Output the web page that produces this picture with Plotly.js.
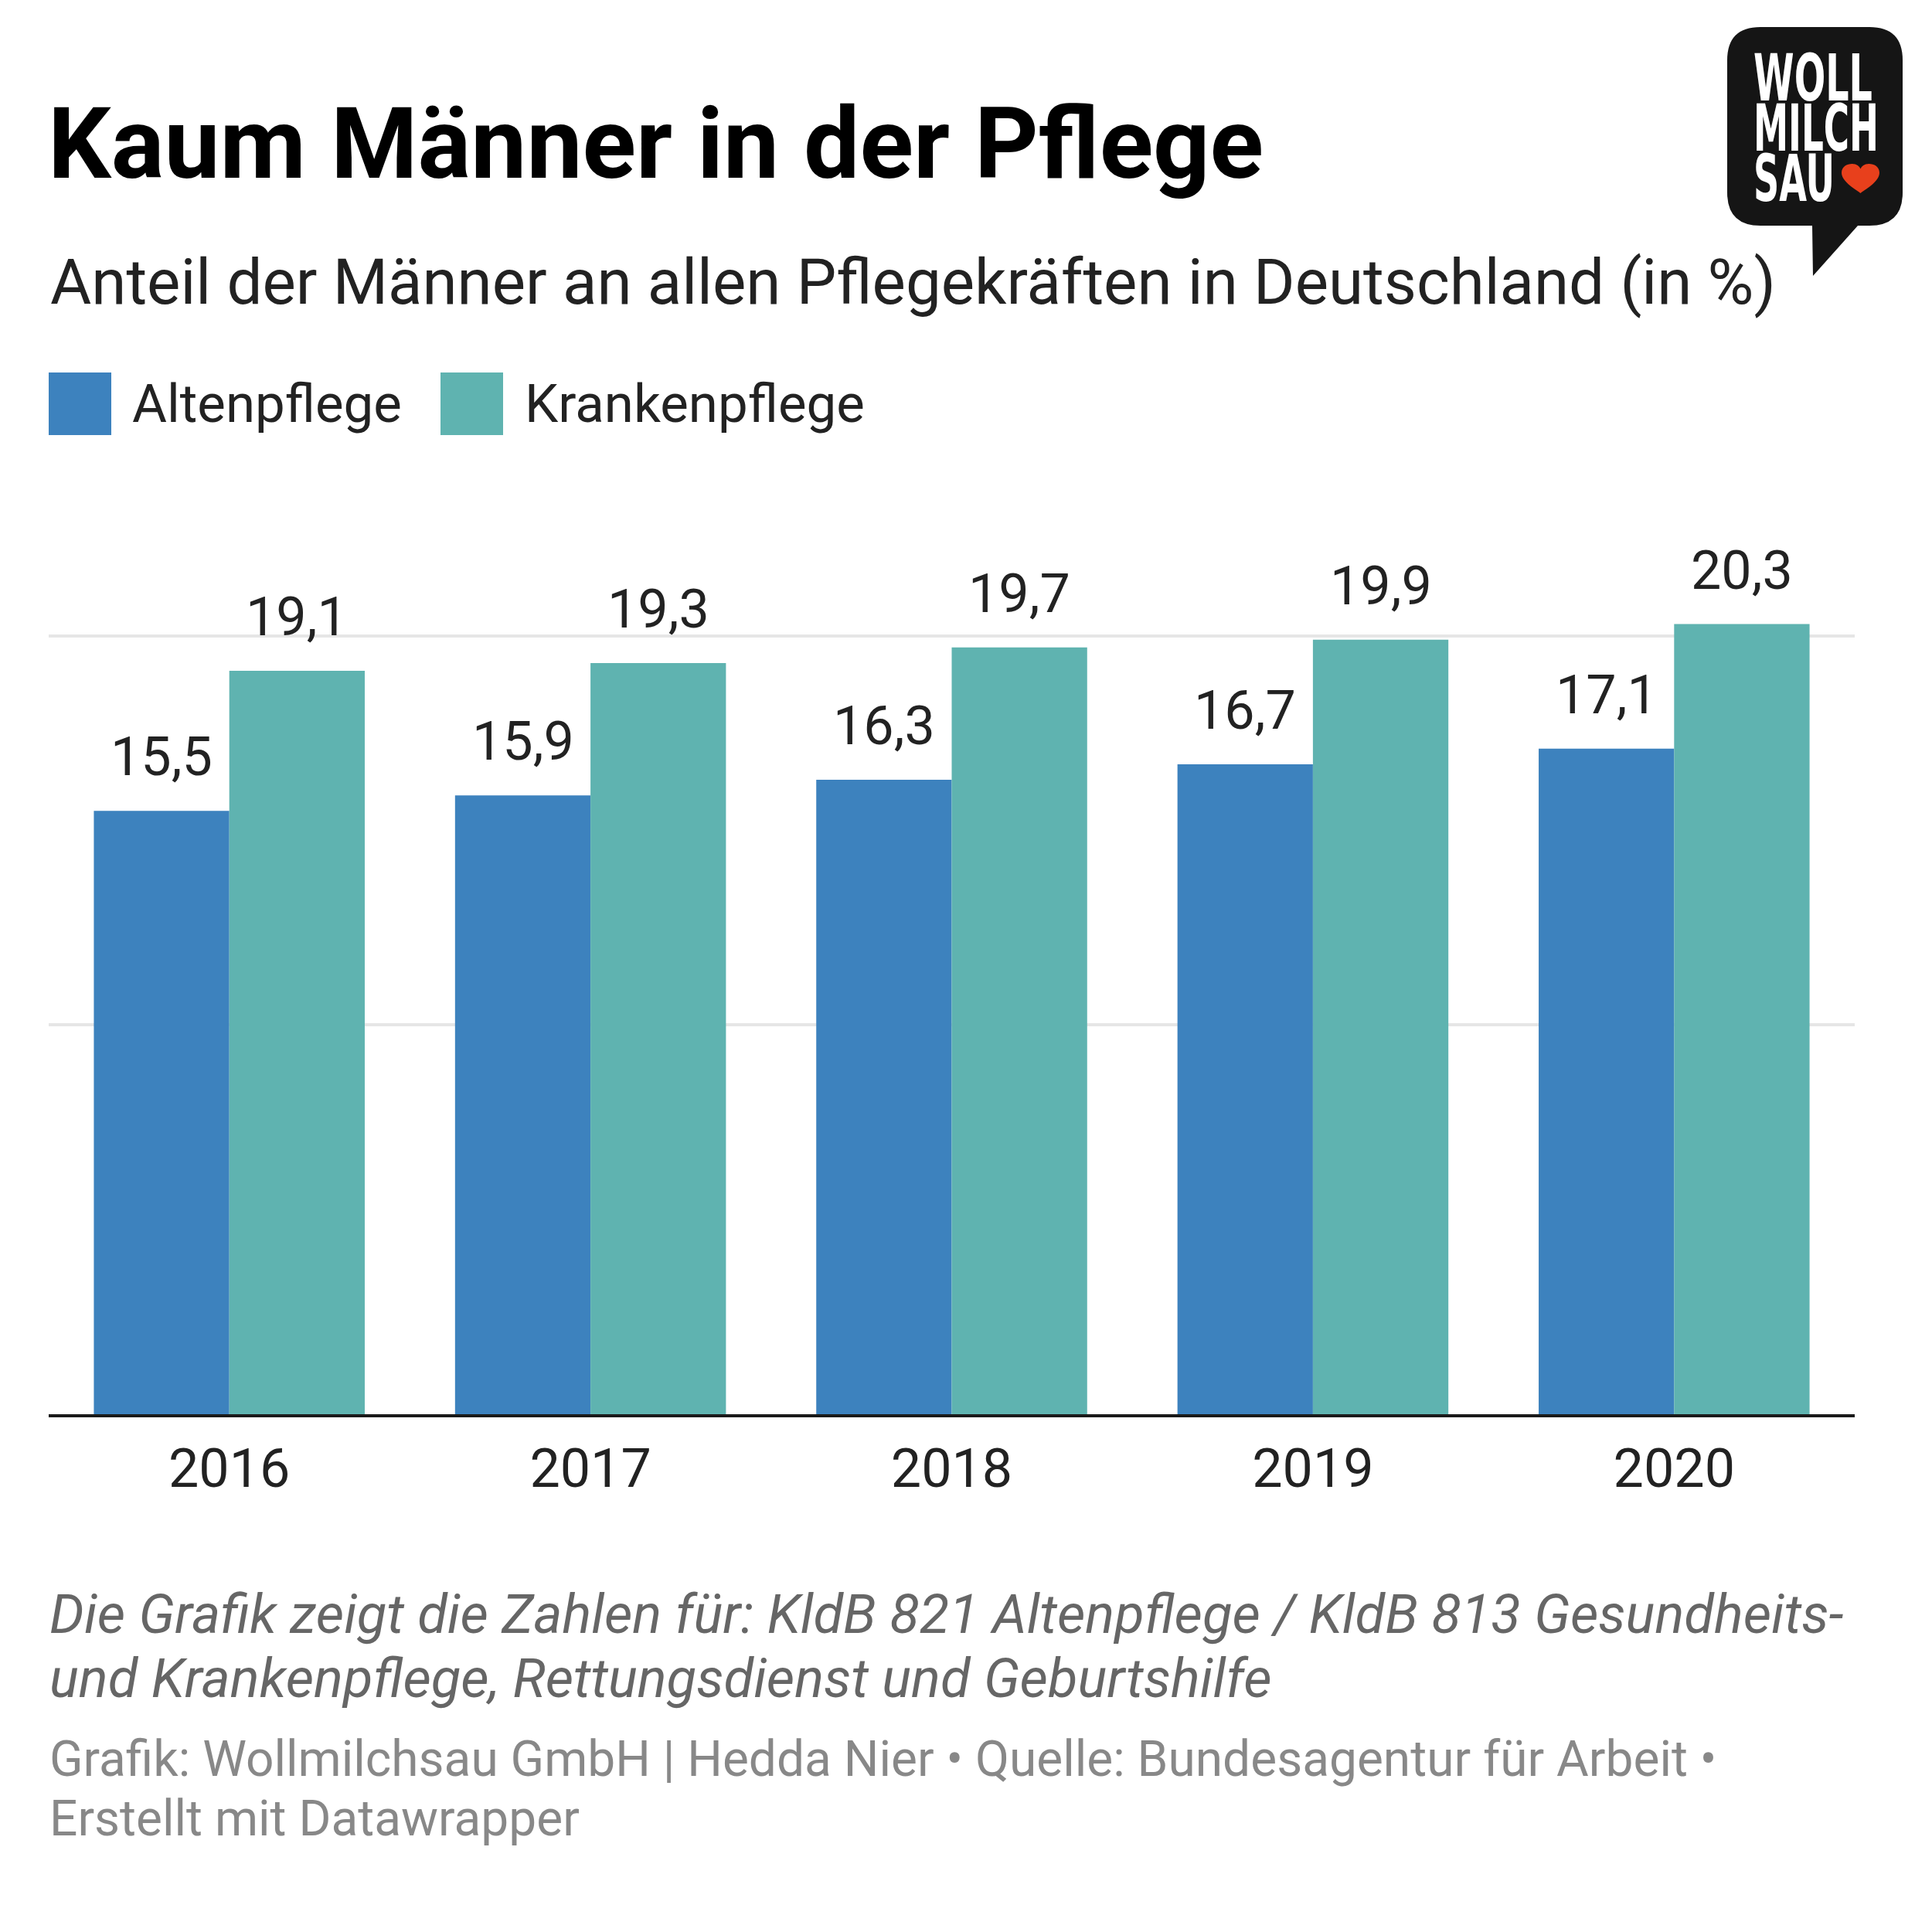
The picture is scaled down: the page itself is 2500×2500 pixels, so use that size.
<!DOCTYPE html>
<html>
<head>
<meta charset="utf-8">
<script src="https://cdn.plot.ly/plotly-3.0.1.min.js"></script>
<style>
  html, body { margin: 0; padding: 0; background: #ffffff; }
  #chart { width: 2500px; height: 2500px; }
</style>
</head>
<body>
<div id="chart"></div>
<script>
// ---------- data ----------
const years = ['2016', '2017', '2018', '2019', '2020'];
const altenpflege = [15.5, 15.9, 16.3, 16.7, 17.1];
const krankenpflege = [19.1, 19.3, 19.7, 19.9, 20.3];
const seriesNames = ['Altenpflege', 'Krankenpflege'];

const titleText = 'Kaum Männer in der Pflege';
const subtitleText = 'Anteil der Männer an allen Pflegekräften in Deutschland (in %)';
const noteLines = [
  'Die Grafik zeigt die Zahlen für: KldB 821 Altenpflege / KldB 813 Gesundheits-',
  'und Krankenpflege, Rettungsdienst und Geburtshilfe'
];
const sourceLines = [
  'Grafik: Wollmilchsau GmbH | Hedda Nier • Quelle: Bundesagentur für Arbeit •',
  'Erstellt mit Datawrapper'
];
const logoLines = ['WOLL', 'MILCH', 'SAU'];

// ---------- geometry / style ----------
const W = 2500, H = 2500;
const PL = 63, PR = 2400, PT = 722, PB = 1830;
const xp = px => (px - PL) / (PR - PL);
const yp = py => (PB - py) / (PB - PT);
const blue = '#3d82be';
const teal = '#5fb3b0';
const FONT = 'Roboto, "Noto Sans", sans-serif';
const fmt = v => v.toFixed(1).replace('.', ',');

const traces = [
  { type: 'bar', name: seriesNames[0], x: years, y: altenpflege,
    marker: { color: blue, line: { width: 0 } }, hoverinfo: 'skip' },
  { type: 'bar', name: seriesNames[1], x: years, y: krankenpflege,
    marker: { color: teal, line: { width: 0 } }, hoverinfo: 'skip' }
];

const annotations = [];
const shapes = [];

// value labels above bars (x = category index on the category axis)
const barOffset = 87.6;
[altenpflege, krankenpflege].forEach((vals, si) => {
  vals.forEach((v, i) => {
    annotations.push({
      xref: 'x', yref: 'y', x: years.indexOf(years[i]), y: v,
      xshift: si === 0 ? -barOffset : barOffset, yshift: 70,
      text: fmt(v), showarrow: false, xanchor: 'center', yanchor: 'middle',
      font: { family: FONT, size: 70, color: '#222222' }
    });
  });
});

// subtitle
annotations.push({
  xref: 'paper', yref: 'paper', x: xp(63), y: yp(365), xanchor: 'left', yanchor: 'middle',
  text: subtitleText, showarrow: false, align: 'left',
  font: { family: FONT, size: 81.7, color: '#222222' }
});

// legend
const legendItems = [
  { name: seriesNames[0], color: blue, sx: 63, tx: 169 },
  { name: seriesNames[1], color: teal, sx: 570, tx: 677 }
];
legendItems.forEach(it => {
  shapes.push({ type: 'rect', xref: 'paper', yref: 'paper',
    x0: xp(it.sx), x1: xp(it.sx + 81), y0: yp(563), y1: yp(482),
    fillcolor: it.color, line: { width: 0 } });
  annotations.push({
    xref: 'paper', yref: 'paper', x: xp(it.tx), y: yp(522), xanchor: 'left', yanchor: 'middle',
    text: it.name, showarrow: false, align: 'left',
    font: { family: FONT, size: 69, color: '#222222' }
  });
});

// notes & source
[2088, 2171].forEach((cy, i) => {
  annotations.push({
    xref: 'paper', yref: 'paper', x: xp(62), y: yp(cy), xanchor: 'left', yanchor: 'middle',
    text: '<i>' + noteLines[i] + '</i>', showarrow: false, align: 'left',
    font: { family: FONT, size: 70.7, color: '#666666' }
  });
});
[2276, 2353].forEach((cy, i) => {
  annotations.push({
    xref: 'paper', yref: 'paper', x: xp(62), y: yp(cy), xanchor: 'left', yanchor: 'middle',
    text: sourceLines[i], showarrow: false, align: 'left',
    font: { family: FONT, size: 64, color: '#888888' }
  });
});

// logo bubble
function pathFrom(pts) {
  return pts.map(p => p[0] + ' ' + xp(p[1]).toFixed(5) + ',' + yp(p[2]).toFixed(5) +
    (p.length > 3 ? ' ' + xp(p[3]).toFixed(5) + ',' + yp(p[4]).toFixed(5) : '')).join(' ') + ' Z';
}
const bubble = [
  ['M', 2278, 35], ['L', 2419, 35], ['Q', 2462, 35, 2462, 78], ['L', 2462, 249],
  ['Q', 2462, 292, 2419, 292], ['L', 2404, 292], ['L', 2346, 357], ['L', 2345, 292],
  ['L', 2278, 292], ['Q', 2235, 292, 2235, 249], ['L', 2235, 78], ['Q', 2235, 35, 2278, 35]
];
shapes.push({ type: 'path', xref: 'paper', yref: 'paper', path: pathFrom(bubble),
  fillcolor: '#151515', line: { width: 0 }, layer: 'above' });

// heart
const hx = 2383, hy = 212, hw = 49, hh = 38;
const hp = (u, v) => [hx + u * hw, hy + v * hh];
function c(u1, v1, u2, v2, u3, v3) {
  const a = hp(u1, v1), b = hp(u2, v2), d = hp(u3, v3);
  return 'C ' + [a, b, d].map(p => xp(p[0]).toFixed(5) + ',' + yp(p[1]).toFixed(5)).join(' ');
}
const h0 = hp(0.5, 1);
const heartPath = 'M ' + xp(h0[0]).toFixed(5) + ',' + yp(h0[1]).toFixed(5) + ' ' +
  c(0.42, 0.9, 0, 0.62, 0, 0.3) + ' ' +
  c(0, 0.1, 0.14, 0, 0.28, 0) + ' ' +
  c(0.4, 0, 0.47, 0.08, 0.5, 0.17) + ' ' +
  c(0.53, 0.08, 0.6, 0, 0.72, 0) + ' ' +
  c(0.86, 0, 1, 0.1, 1, 0.3) + ' ' +
  c(1, 0.62, 0.58, 0.9, 0.5, 1) + ' Z';
shapes.push({ type: 'path', xref: 'paper', yref: 'paper', path: heartPath,
  fillcolor: '#e8401c', line: { width: 0 }, layer: 'above' });

// logo text (condensed afterwards to match the logo's narrow lettering)
const logoSize = 56;
const logoCenters = [110.6, 175.6, 240.6];
const logoWidths = [154, 162, 105];
const logoScaleY = 1.49;
logoLines.forEach((t, i) => {
  annotations.push({
    xref: 'paper', yref: 'paper', x: xp(2268), y: yp(logoCenters[i]), xanchor: 'left', yanchor: 'middle',
    text: t, showarrow: false, align: 'left', borderpad: 0,
    font: { family: '"Liberation Sans Narrow", "DejaVu Sans Condensed", "Arial Narrow", sans-serif',
            size: logoSize, color: '#ffffff', weight: 700 }
  });
});

const layout = {
  width: W, height: H,
  margin: { l: PL, r: W - PR, t: PT, b: H - PB, pad: 0 },
  paper_bgcolor: '#ffffff', plot_bgcolor: '#ffffff',
  showlegend: false,
  barmode: 'group', bargap: 0.25, bargroupgap: 0,
  title: {
    text: titleText,
    font: { family: FONT, size: 128.6, color: '#000000', weight: 700 },
    xref: 'container', yref: 'container', x: 62 / W, xanchor: 'left',
    y: 1 - 185 / H, yanchor: 'middle'
  },
  xaxis: {
    type: 'category', range: [-0.5, 4.5], fixedrange: true,
    showline: true, linecolor: '#1a1a1a', linewidth: 4,
    ticks: '', showgrid: false, zeroline: false, ticklabelstandoff: 6,
    tickfont: { family: FONT, size: 70, color: '#222222' }
  },
  yaxis: {
    range: [0, 22], tick0: 0, dtick: 10, fixedrange: true,
    showgrid: true, gridcolor: '#e6e6e6', gridwidth: 4,
    showticklabels: false, zeroline: false, showline: false, ticks: ''
  },
  annotations: annotations,
  shapes: shapes
};

Plotly.newPlot('chart', traces, layout, { staticPlot: true, displayModeBar: false }).then(gd => {
  const texts = gd.querySelectorAll('.annotation-text');
  texts.forEach(el => {
    const idx = logoLines.indexOf(el.textContent);
    if (idx >= 0) {
      el.setAttribute('textLength', logoWidths[idx]);
      el.setAttribute('lengthAdjust', 'spacingAndGlyphs');
      const x = parseFloat(el.getAttribute('x')) || 0;
      const y = parseFloat(el.getAttribute('y')) || 0;
      const prev = el.getAttribute('transform') || '';
      el.setAttribute('transform', prev + ' translate(' + x + ',' + y + ') scale(1,' + logoScaleY + ') translate(' + (-x) + ',' + (-y) + ')');
    }
  });
});
</script>
</body>
</html>
